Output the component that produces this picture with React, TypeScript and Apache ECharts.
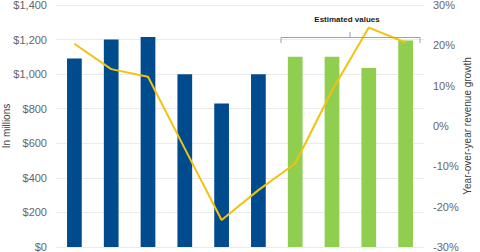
import React, { useEffect, useRef } from "react";
import * as echarts from "echarts";

const categories = ["2011", "2012", "2013", "2014", "2015", "2016", "2017E", "2018E", "2019E", "2020E"];
const revenue = [1090, 1200, 1215, 1000, 830, 1000, 1100, 1100, 1035, 1195];
const estimated = [false, false, false, false, false, false, true, true, true, true];
const growth = [20.4, 14.1, 12.2, -5.6, -23.3, -15.9, -9.3, 8.8, 24.4, 20.7];
const leftTicks = { min: 0, max: 1400, interval: 200 };
const rightTicks = { min: -30, max: 30, interval: 10 };

const BLUE = "#004b8d";
const GREEN = "#8fce4f";
const GOLD = "#f3c20f";
const FONT = "Liberation Sans, Arial, sans-serif";

export default function App() {
  const ref = useRef<HTMLDivElement>(null);
  useEffect(() => {
    if (!ref.current) return;
    const chart = echarts.init(ref.current, null, { renderer: "svg" });
    const bracketColor = "#8aa4c2";
    chart.setOption({
      animation: false,
      textStyle: { fontFamily: FONT },
      grid: { left: 56, right: 56, top: 5, bottom: 5, containLabel: false, outerBoundsMode: "none" },
      xAxis: {
        type: "category",
        data: categories,
        axisLabel: { show: false },
        axisTick: { show: false },
        axisLine: { show: false },
      },
      yAxis: [
        {
          type: "value",
          ...leftTicks,
          name: "In millions",
          nameLocation: "middle",
          nameGap: 45,
          nameMoveOverlap: false,
          nameTextStyle: { color: "#404040", fontSize: 10, fontFamily: FONT },
          axisLabel: {
            color: "#666666",
            fontSize: 11,
            margin: 9,
            fontFamily: FONT,
            formatter: (v: number) => "$" + v.toLocaleString("en-US"),
          },
          axisLine: { show: false },
          axisTick: { show: false },
          splitLine: { lineStyle: { color: "#ebebeb", width: 1 } },
        },
        {
          type: "value",
          ...rightTicks,
          name: "Year-over-year revenue growth",
          nameLocation: "middle",
          nameGap: 38,
          nameMoveOverlap: false,
          nameTextStyle: { color: "#404040", fontSize: 10, fontFamily: FONT },
          axisLabel: {
            color: "#666666",
            fontSize: 11,
            margin: 9,
            fontFamily: FONT,
            formatter: (v: number) => v + "%",
          },
          axisLine: { show: false },
          axisTick: { show: false },
          splitLine: { show: false },
        },
      ],
      series: [
        {
          type: "bar",
          yAxisIndex: 0,
          barWidth: "40%",
          data: revenue.map((v, i) => ({
            value: v,
            itemStyle: { color: estimated[i] ? GREEN : BLUE },
          })),
        },
        {
          type: "line",
          yAxisIndex: 1,
          data: growth,
          symbol: "none",
          lineStyle: { color: GOLD, width: 2 },
          z: 5,
        },
      ],
      graphic: [
        {
          type: "polyline",
          shape: { points: [[281, 43], [281, 37.5], [420, 37.5], [420, 43]] },
          style: { stroke: bracketColor, lineWidth: 1, fill: null },
          z: 10,
        },
        {
          type: "line",
          shape: { x1: 350, y1: 37.5, x2: 350, y2: 32 },
          style: { stroke: bracketColor, lineWidth: 1 },
          z: 10,
        },
        {
          type: "text",
          x: 347,
          y: 19,
          style: {
            text: "Estimated values",
            fontSize: 8,
            fontWeight: "bold",
            fill: "#1a1a1a",
            fontFamily: FONT,
            align: "center",
            verticalAlign: "middle",
          },
          z: 10,
        },
      ],
    });
    return () => chart.dispose();
  }, []);
  return (
    <div
      ref={ref}
      style={{ position: "fixed", left: 0, top: 0, width: 480, height: 252, background: "#fff" }}
    />
  );
}
